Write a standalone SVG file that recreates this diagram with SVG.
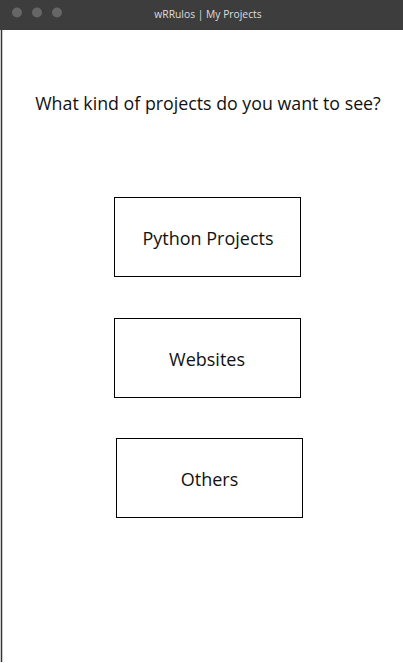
<svg xmlns="http://www.w3.org/2000/svg" width="403" height="663" viewBox="0 0 403 663">
<style>
.btn{fill:#fff;stroke:#000;stroke-width:1}
.lbl{font-family:"Open Sans","Noto Sans",sans-serif;font-size:18px;fill:#111;text-anchor:middle}
.dot{fill:#666}
</style>
<rect x="0" y="0" width="403" height="663" fill="#fff"/>
<g id="titlebar">
<rect x="0" y="0" width="403" height="30" fill="#3d3d3d"/>
<circle class="dot" cx="17" cy="12.5" r="5"/>
<circle class="dot" cx="37" cy="12.5" r="5"/>
<circle class="dot" cx="57" cy="12.5" r="5"/>
<text x="208" y="18" font-family="'Open Sans','Noto Sans',sans-serif" font-size="10.3" fill="#ddd" text-anchor="middle">wRRulos | My Projects</text>
</g>
<line x1="1.5" y1="30" x2="1.5" y2="662" stroke="#333" stroke-width="1.5"/>
<text id="question" class="lbl" x="208" y="110" style="font-size:17.8px">What kind of projects do you want to see?</text>
<g id="python">
<rect class="btn" x="114.5" y="197.5" width="186" height="79"/>
<text class="lbl" x="208" y="245">Python Projects</text>
</g>
<g id="websites">
<rect class="btn" x="114.5" y="318.5" width="186" height="79"/>
<text class="lbl" x="207" y="366">Websites</text>
</g>
<g id="others">
<rect class="btn" x="116.5" y="438.5" width="186" height="79"/>
<text class="lbl" x="209.5" y="486">Others</text>
</g>
<g id="connectors"></g>
</svg>
